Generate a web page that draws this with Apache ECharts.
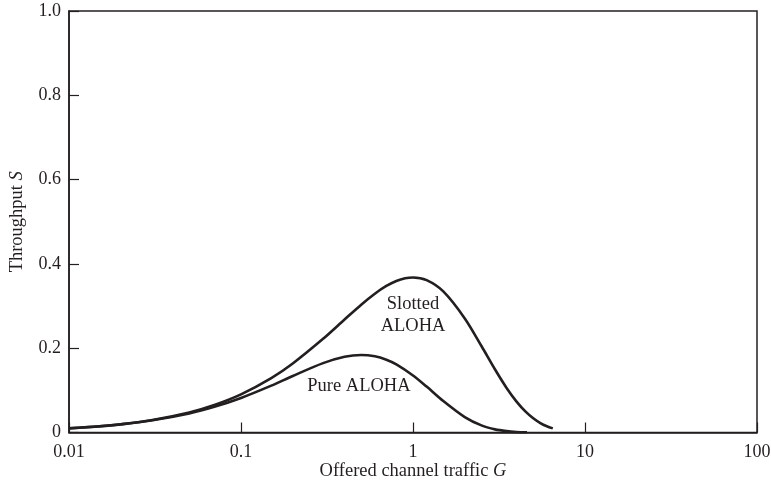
<!DOCTYPE html>
<html>
<head>
<meta charset="utf-8">
<script src="https://cdn.jsdelivr.net/npm/echarts@6/dist/echarts.min.js"></script>
<style>html,body{margin:0;padding:0;background:#fff}#c{width:771px;height:485px}</style>
</head>
<body>
<div id="c"></div>
<script>
// Offered traffic G
const slottedG = [0.01,0.015,0.02,0.03,0.05,0.07,0.1,0.15,0.2,0.3,0.4,0.5,0.6,0.7,0.8,0.9,1.0,1.2,1.5,2,2.5,3,3.5,4,4.5,5,5.5,6,6.5];
const slottedS = [0.0099,0.0148,0.0196,0.0291,0.0476,0.0653,0.0905,0.1291,0.1637,0.2222,0.2681,0.3033,0.3293,0.3476,0.3595,0.3659,0.3679,0.3614,0.3347,0.2707,0.2052,0.1494,0.1057,0.0733,0.0500,0.0337,0.0225,0.0149,0.0098];
const pureG = [0.01,0.015,0.02,0.03,0.05,0.07,0.1,0.15,0.2,0.3,0.4,0.5,0.6,0.7,0.8,1.0,1.2,1.5,2,2.5,3,3.5,4,4.6];
const pureS = [0.0098,0.0146,0.0192,0.0283,0.0452,0.0609,0.0819,0.1111,0.1341,0.1646,0.1797,0.1839,0.1807,0.1726,0.1615,0.1353,0.1089,0.0747,0.0366,0.0168,0.0074,0.0032,0.0013,0.0005];
const xTickLabels = ['0.01','0.1','1','10','100'];
const yTickLabels = ['0','0.2','0.4','0.6','0.8','1.0'];
const annotations = [
  {text: 'Slotted\nALOHA', G: 1.0, S: 0.278},
  {text: 'Pure ALOHA', G: 0.485, S: 0.109}
];

const font = '"Liberation Serif", "DejaVu Serif", serif';
const ink = '#231f20';
const chart = echarts.init(document.getElementById('c'));
const zip = (a, b) => a.map((v, i) => [v, b[i]]);

chart.setOption({
  animation: false,
  backgroundColor: '#fff',
  grid: {left: 69, right: 14, top: 11, bottom: 52.5, containLabel: false, outerBoundsMode: 'none',
    show: true, borderColor: ink, borderWidth: 1.5, backgroundColor: 'transparent'},
  xAxis: {
    type: 'log', logBase: 10, min: 0.01, max: 100,
    name: 'Offered channel traffic {i|G}', nameLocation: 'middle', nameGap: 29, nameMoveOverlap: false,
    nameTextStyle: {fontFamily: font, fontSize: 18.5, color: ink, rich: {i: {fontFamily: font, fontSize: 18.5, fontStyle: 'italic', color: ink}}},
    axisLine: {lineStyle: {color: ink, width: 1.5}},
    axisTick: {inside: true, length: 10, lineStyle: {color: ink, width: 1.2}},
    minorTick: {show: false},
    splitLine: {show: false},
    axisLabel: {fontFamily: font, fontSize: 18, color: ink, margin: 11,
      formatter: v => { const i = Math.round(Math.log10(v)) + 2; return xTickLabels[i] !== undefined ? xTickLabels[i] : ''; }}
  },
  yAxis: {
    type: 'value', min: 0, max: 1, interval: 0.2,
    name: 'Throughput {i|S}', nameLocation: 'middle', nameGap: 42, nameRotate: 90, nameMoveOverlap: false,
    nameTextStyle: {fontFamily: font, fontSize: 18.5, color: ink, rich: {i: {fontFamily: font, fontSize: 18.5, fontStyle: 'italic', color: ink}}},
    axisLine: {show: true, lineStyle: {color: ink, width: 1.5}},
    axisTick: {show: true, inside: true, length: 10, lineStyle: {color: ink, width: 1.2}},
    splitLine: {show: false},
    axisLabel: {fontFamily: font, fontSize: 18, color: ink, margin: 8,
      formatter: v => yTickLabels[Math.round(v / 0.2)]}
  },
  series: [
    {type: 'line', name: 'Slotted ALOHA', data: zip(slottedG, slottedS), smooth: 0.3, showSymbol: false,
      lineStyle: {color: ink, width: 2.6}},
    {type: 'line', name: 'Pure ALOHA', data: zip(pureG, pureS), smooth: 0.3, showSymbol: false,
      lineStyle: {color: ink, width: 2.6}},
    {type: 'scatter', symbolSize: 0, silent: true, itemStyle: {opacity: 1, color: ink},
      data: annotations.map(a => ({value: [a.G, a.S], label: {formatter: a.text}})),
      label: {show: true, position: 'inside', fontFamily: font, fontSize: 18.5, color: ink, opacity: 1, lineHeight: 22, align: 'center'}}
  ]
});
</script>
</body>
</html>
